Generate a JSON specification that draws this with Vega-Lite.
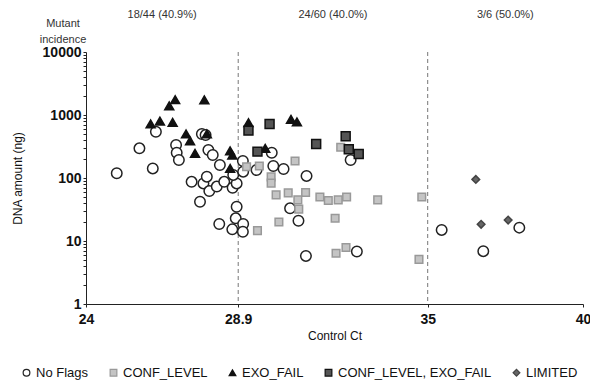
{
  "$schema": "https://vega.github.io/schema/vega-lite/v6.json",
  "width": 497,
  "height": 252,
  "autosize": {"type": "none"},
  "padding": {"left": 86, "top": 52, "right": 7, "bottom": 80},
  "background": "white",
  "config": {
    "font": "Liberation Sans",
    "view": {"stroke": null},
    "axis": {"grid": false, "domainColor": "#222", "tickColor": "#222", "labelColor": "#111", "titleColor": "#111"}
  },
  "datasets": {
    "pts": [
      {"x": 26.87, "y": 1750, "flag": "EXO_FAIL"},
      {"x": 27.81, "y": 1740, "flag": "EXO_FAIL"},
      {"x": 26.68, "y": 1400, "flag": "EXO_FAIL"},
      {"x": 26.08, "y": 720, "flag": "EXO_FAIL"},
      {"x": 26.38, "y": 800, "flag": "EXO_FAIL"},
      {"x": 26.79, "y": 765, "flag": "EXO_FAIL"},
      {"x": 27.22, "y": 500, "flag": "EXO_FAIL"},
      {"x": 27.35, "y": 390, "flag": "EXO_FAIL"},
      {"x": 27.89, "y": 500, "flag": "EXO_FAIL"},
      {"x": 27.51, "y": 247, "flag": "EXO_FAIL"},
      {"x": 28.64, "y": 270, "flag": "EXO_FAIL"},
      {"x": 28.71, "y": 230, "flag": "EXO_FAIL"},
      {"x": 28.64, "y": 142, "flag": "EXO_FAIL"},
      {"x": 29.23, "y": 755, "flag": "EXO_FAIL"},
      {"x": 29.77, "y": 296, "flag": "EXO_FAIL"},
      {"x": 30.6, "y": 855, "flag": "EXO_FAIL"},
      {"x": 30.79, "y": 775, "flag": "EXO_FAIL"},
      {"x": 29.23, "y": 565, "flag": "CONF_LEVEL, EXO_FAIL"},
      {"x": 29.91, "y": 720, "flag": "CONF_LEVEL, EXO_FAIL"},
      {"x": 29.52, "y": 262, "flag": "CONF_LEVEL, EXO_FAIL"},
      {"x": 31.41, "y": 347, "flag": "CONF_LEVEL, EXO_FAIL"},
      {"x": 32.36, "y": 460, "flag": "CONF_LEVEL, EXO_FAIL"},
      {"x": 32.46, "y": 285, "flag": "CONF_LEVEL, EXO_FAIL"},
      {"x": 32.78, "y": 240, "flag": "CONF_LEVEL, EXO_FAIL"},
      {"x": 36.55, "y": 95, "flag": "LIMITED"},
      {"x": 36.72, "y": 18.4, "flag": "LIMITED"},
      {"x": 37.59, "y": 21.5, "flag": "LIMITED"},
      {"x": 24.99, "y": 119, "flag": "No Flags"},
      {"x": 25.72, "y": 296, "flag": "No Flags"},
      {"x": 26.15, "y": 142, "flag": "No Flags"},
      {"x": 26.25, "y": 543, "flag": "No Flags"},
      {"x": 27.73, "y": 500, "flag": "No Flags"},
      {"x": 27.85, "y": 480, "flag": "No Flags"},
      {"x": 26.9, "y": 334, "flag": "No Flags"},
      {"x": 26.92, "y": 252, "flag": "No Flags"},
      {"x": 26.99, "y": 193, "flag": "No Flags"},
      {"x": 27.94, "y": 278, "flag": "No Flags"},
      {"x": 28.08, "y": 232, "flag": "No Flags"},
      {"x": 28.31, "y": 161, "flag": "No Flags"},
      {"x": 27.4, "y": 87, "flag": "No Flags"},
      {"x": 27.78, "y": 82, "flag": "No Flags"},
      {"x": 27.89, "y": 105, "flag": "No Flags"},
      {"x": 27.97, "y": 62, "flag": "No Flags"},
      {"x": 28.21, "y": 73, "flag": "No Flags"},
      {"x": 28.45, "y": 87, "flag": "No Flags"},
      {"x": 28.72, "y": 70, "flag": "No Flags"},
      {"x": 28.85, "y": 82, "flag": "No Flags"},
      {"x": 27.67, "y": 42, "flag": "No Flags"},
      {"x": 28.85, "y": 35, "flag": "No Flags"},
      {"x": 28.74, "y": 112, "flag": "No Flags"},
      {"x": 28.29, "y": 18.6, "flag": "No Flags"},
      {"x": 28.71, "y": 15.3, "flag": "No Flags"},
      {"x": 28.82, "y": 22.9, "flag": "No Flags"},
      {"x": 29.06, "y": 18.6, "flag": "No Flags"},
      {"x": 29.05, "y": 14, "flag": "No Flags"},
      {"x": 29.05, "y": 186, "flag": "No Flags"},
      {"x": 29.06, "y": 126, "flag": "No Flags"},
      {"x": 29.98, "y": 252, "flag": "No Flags"},
      {"x": 30.03, "y": 155, "flag": "No Flags"},
      {"x": 30.36, "y": 139, "flag": "No Flags"},
      {"x": 31.1, "y": 108, "flag": "No Flags"},
      {"x": 32.52, "y": 193, "flag": "No Flags"},
      {"x": 29.49, "y": 134, "flag": "No Flags"},
      {"x": 30.57, "y": 33, "flag": "No Flags"},
      {"x": 30.84, "y": 21, "flag": "No Flags"},
      {"x": 31.08, "y": 5.8, "flag": "No Flags"},
      {"x": 32.72, "y": 6.8, "flag": "No Flags"},
      {"x": 35.45, "y": 15, "flag": "No Flags"},
      {"x": 36.79, "y": 6.9, "flag": "No Flags"},
      {"x": 37.95, "y": 16.3, "flag": "No Flags"},
      {"x": 29.17, "y": 151, "flag": "CONF_LEVEL"},
      {"x": 29.58, "y": 155, "flag": "CONF_LEVEL"},
      {"x": 30.73, "y": 186, "flag": "CONF_LEVEL"},
      {"x": 29.96, "y": 104, "flag": "CONF_LEVEL"},
      {"x": 29.96, "y": 83, "flag": "CONF_LEVEL"},
      {"x": 30.12, "y": 54, "flag": "CONF_LEVEL"},
      {"x": 30.51, "y": 58, "flag": "CONF_LEVEL"},
      {"x": 31.07, "y": 59, "flag": "CONF_LEVEL"},
      {"x": 30.82, "y": 45, "flag": "CONF_LEVEL"},
      {"x": 31.53, "y": 50, "flag": "CONF_LEVEL"},
      {"x": 31.8, "y": 44, "flag": "CONF_LEVEL"},
      {"x": 32.12, "y": 45, "flag": "CONF_LEVEL"},
      {"x": 32.39, "y": 50, "flag": "CONF_LEVEL"},
      {"x": 33.39, "y": 45, "flag": "CONF_LEVEL"},
      {"x": 30.85, "y": 32, "flag": "CONF_LEVEL"},
      {"x": 30.21, "y": 20, "flag": "CONF_LEVEL"},
      {"x": 32.02, "y": 23, "flag": "CONF_LEVEL"},
      {"x": 29.52, "y": 14.6, "flag": "CONF_LEVEL"},
      {"x": 32.05, "y": 6.4, "flag": "CONF_LEVEL"},
      {"x": 32.37, "y": 7.9, "flag": "CONF_LEVEL"},
      {"x": 34.81, "y": 50, "flag": "CONF_LEVEL"},
      {"x": 34.72, "y": 5.1, "flag": "CONF_LEVEL"},
      {"x": 32.2, "y": 307, "flag": "CONF_LEVEL"}
    ],
    "cuts": [{"x": 28.9}, {"x": 35}],
    "notes": [
      {"x": 26.45, "y": 38600, "label": "18/44 (40.9%)"},
      {"x": 31.95, "y": 38600, "label": "24/60 (40.0%)"},
      {"x": 37.5, "y": 38600, "label": "3/6 (50.0%)"}
    ],
    "head": [{"x": 23.26, "y": 28300, "label": ["Mutant", "incidence"]}]
  },
  "encoding": {
    "x": {
      "field": "x", "type": "quantitative",
      "scale": {"domain": [24, 40], "nice": false, "zero": false},
      "axis": {"values": [24, 28.9, 35, 40], "labelExpr": "toString(datum.value)", "title": "Control Ct", "labelFontSize": 14, "labelFontWeight": "bold", "tickSize": 3, "labelPadding": 5, "titleFontSize": 12, "titleFontWeight": "normal", "titlePadding": 4, "labelFlush": false}
    }
  },
  "layer": [
    {
      "data": {"name": "cuts"},
      "mark": {"type": "rule", "color": "#777", "strokeDash": [4, 3], "strokeWidth": 1},
      "encoding": {}
    },
    {
      "data": {"name": "pts"},
      "transform": [{"filter": "datum.flag == 'No Flags'"}],
      "mark": {"type": "point", "filled": false, "strokeWidth": 1.5, "opacity": 1, "size": 110},
      "encoding": {
        "y": {
          "field": "y", "type": "quantitative",
          "scale": {"type": "log", "domain": [1, 10000], "nice": false},
          "axis": {
            "values": [1, 2, 3, 4, 5, 6, 7, 8, 9, 10, 20, 30, 40, 50, 60, 70, 80, 90, 100, 200, 300, 400, 500, 600, 700, 800, 900, 1000, 2000, 3000, 4000, 5000, 6000, 7000, 8000, 9000, 10000],
            "labelExpr": "indexof([1,10,100,1000,10000], datum.value) >= 0 ? format(datum.value, 'd') : ''",
            "title": "DNA amount (ng)", "labelFontSize": 14, "labelFontWeight": "bold", "tickSize": 3, "labelPadding": 2, "titleFontSize": 12, "titleFontWeight": "normal", "titlePadding": 18
          }
        },
        "shape": {
          "field": "flag", "type": "nominal",
          "scale": {"domain": ["No Flags", "CONF_LEVEL", "EXO_FAIL", "CONF_LEVEL, EXO_FAIL", "LIMITED"], "range": ["circle", "square", "triangle-up", "square", "diamond"]},
          "legend": {"orient": "none", "legendX": -66, "legendY": 314, "direction": "horizontal", "title": null, "labelFontSize": 13, "labelColor": "#111", "columnPadding": 18, "labelOffset": 3, "symbolSize": 45, "symbolStrokeWidth": 1.2}
        },
        "fill": {
          "field": "flag", "type": "nominal",
          "scale": {"domain": ["No Flags", "CONF_LEVEL", "EXO_FAIL", "CONF_LEVEL, EXO_FAIL", "LIMITED"], "range": ["white", "#c4c4c4", "#111111", "#555555", "#666666"]},
          "legend": {"orient": "none", "legendX": -66, "legendY": 314, "direction": "horizontal", "title": null, "labelFontSize": 13, "labelColor": "#111", "columnPadding": 18, "labelOffset": 3, "symbolSize": 45, "symbolStrokeWidth": 1.2}
        },
        "stroke": {
          "field": "flag", "type": "nominal",
          "scale": {"domain": ["No Flags", "CONF_LEVEL", "EXO_FAIL", "CONF_LEVEL, EXO_FAIL", "LIMITED"], "range": ["#222222", "#999999", "#111111", "#111111", "#444444"]},
          "legend": {"orient": "none", "legendX": -66, "legendY": 314, "direction": "horizontal", "title": null, "labelFontSize": 13, "labelColor": "#111", "columnPadding": 18, "labelOffset": 3, "symbolSize": 45, "symbolStrokeWidth": 1.2}
        }
      }
    },
    {
      "data": {"name": "pts"},
      "transform": [{"filter": "datum.flag == 'CONF_LEVEL' || datum.flag == 'LIMITED'"}],
      "mark": {"type": "point", "filled": false, "strokeWidth": 1.5, "opacity": 1, "size": 58},
      "encoding": {
        "y": {"field": "y", "type": "quantitative"},
        "shape": {"field": "flag", "type": "nominal"},
        "fill": {"field": "flag", "type": "nominal"},
        "stroke": {"field": "flag", "type": "nominal"}
      }
    },
    {
      "data": {"name": "pts"},
      "transform": [{"filter": "datum.flag == 'EXO_FAIL' || datum.flag == 'CONF_LEVEL, EXO_FAIL'"}],
      "mark": {"type": "point", "filled": false, "strokeWidth": 1.5, "opacity": 1, "size": 80},
      "encoding": {
        "y": {"field": "y", "type": "quantitative"},
        "shape": {"field": "flag", "type": "nominal"},
        "fill": {"field": "flag", "type": "nominal"},
        "stroke": {"field": "flag", "type": "nominal"}
      }
    },
    {
      "data": {"name": "notes"},
      "mark": {"type": "text", "fontSize": 11, "color": "#333", "align": "center", "baseline": "middle"},
      "encoding": {
        "y": {"field": "y", "type": "quantitative"},
        "text": {"field": "label"}
      }
    },
    {
      "data": {"name": "head"},
      "mark": {"type": "text", "fontSize": 11, "color": "#333", "align": "center", "baseline": "middle", "lineHeight": 16},
      "encoding": {
        "y": {"field": "y", "type": "quantitative"},
        "text": {"field": "label"}
      }
    }
  ]
}
